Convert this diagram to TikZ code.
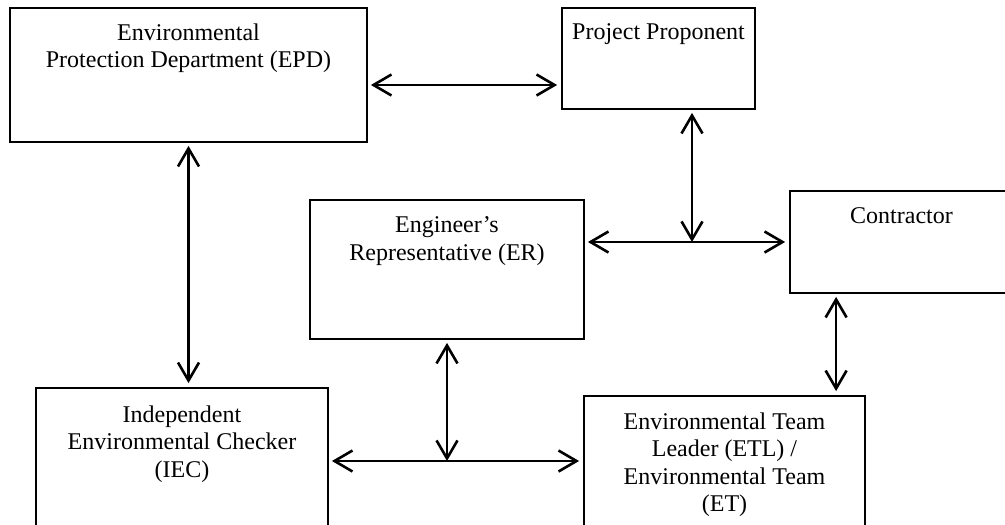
\documentclass[tikz,border=0pt]{standalone}
\usepackage{fontspec}
\setmainfont{Liberation Serif}
\usepackage{tikz}
\usetikzlibrary{arrows.meta, positioning}

\tikzset{
  orgbox/.style={draw=black, line width=0.9pt, rectangle, inner sep=0pt},
  orgtext/.style={align=center, inner sep=0pt, anchor=north,
    font=\fontsize{12}{13.8}\selectfont},
  link/.style={{Straight Barb[length=9pt,width=10.5pt]}-{Straight Barb[length=9pt,width=10.5pt]},
    line width=1.3pt, shorten <=1.5pt, shorten >=2pt},
}

\begin{document}
\begin{tikzpicture}[x=0.5pt,y=-0.5pt]
  \path[use as bounding box] (0,0) rectangle (1005,524);
  \fill[white] (0,0) rectangle (1005,524);
  \clip (0,0) rectangle (1005,524);

  % boxes
  \node[orgbox, minimum width=178.5pt, minimum height=67pt] (epd) at (188.5,75) {};
  \node[orgbox, minimum width=96.5pt, minimum height=50.5pt] (pp) at (658.5,58.5) {};
  \node[orgbox, minimum width=137pt, minimum height=69.5pt] (er) at (447,269.5) {};
  \node[orgbox, minimum width=111.5pt, minimum height=51pt] (con) at (901.5,242) {};
  \node[orgbox, minimum width=146pt, minimum height=73pt] (iec) at (182,461) {};
  \node[orgbox, minimum width=140.5pt, minimum height=72pt] (etl) at (724.5,468) {};

  % texts
  \node[orgtext, below=8pt of epd.north] (epdtxt) {Environmental\\Protection Department (EPD)};
  \node[orgtext, below=8pt of pp.north] (pptxt) {Project Proponent};
  \node[orgtext, below=8.5pt of er.north] (ertxt) {Engineer’s\\Representative (ER)};
  \node[orgtext, below=8.5pt of con.north] (contxt) {Contractor};
  \node[orgtext, below=9pt of iec.north] (iectxt) {Independent\\Environmental Checker\\(IEC)};
  \node[orgtext, below=8.5pt of etl.north] (etltxt) {Environmental Team\\Leader (ETL) /\\Environmental Team\\(ET)};

  % connectors
  \coordinate (epdr) at ([shift={(0,10)}]epd.east);
  \draw[link] (epdr) -- (pp.west |- epdr);
  \draw[link] (epd.south) -- (epd.south |- iec.north);
  \draw[link] (er.east |- con.west) -- (con.west);
  \coordinate (ppb) at ([shift={(33.5,0)}]pp.south);
  \coordinate (hubtop) at (ppb |- con.west);
  \draw[link, shorten >=0pt] (ppb) -- (hubtop);
  \coordinate (conb) at ([shift={(47,0)}]con.south west);
  \draw[link] (conb) -- (conb |- etl.north);
  \draw[link] (iec.east) -- (etl.west |- iec.east);
  \coordinate (hublow) at (er.south |- iec.east);
  \draw[link, shorten >=0pt] (er.south) -- (hublow);
\end{tikzpicture}
\end{document}
